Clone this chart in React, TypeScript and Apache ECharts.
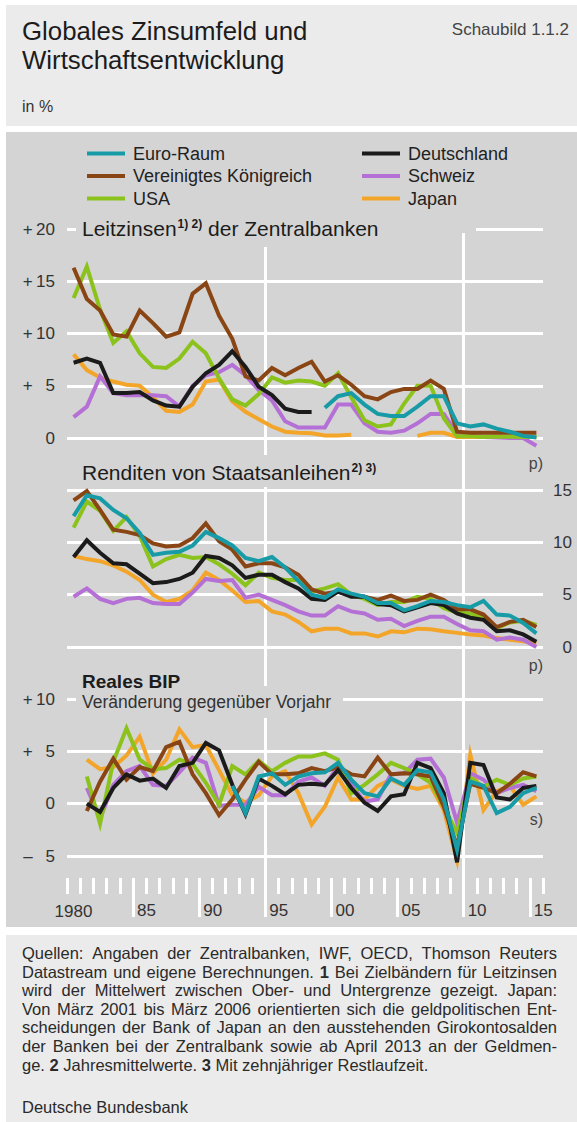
import React, { useEffect, useRef } from 'react';
import * as echarts from 'echarts';

const FONT = '"Liberation Sans", Arial, sans-serif';

const YEARS = [1980, 1981, 1982, 1983, 1984, 1985, 1986, 1987, 1988, 1989, 1990, 1991, 1992, 1993, 1994, 1995, 1996, 1997, 1998, 1999, 2000, 2001, 2002, 2003, 2004, 2005, 2006, 2007, 2008, 2009, 2010, 2011, 2012, 2013, 2014, 2015];

// Panel 1: Leitzinsen der Zentralbanken
const RATE_EURO = [null, null, null, null, null, null, null, null, null, null, null, null, null, null, null, null, null, null, null, 2.9, 4.0, 4.3, 3.2, 2.3, 2.1, 2.1, 3.0, 4.0, 4.0, 1.4, 1.1, 1.3, 0.9, 0.6, 0.2, 0.05];
const RATE_DE = [7.2, 7.6, 7.2, 4.3, 4.3, 4.4, 3.6, 3.1, 3.0, 4.9, 6.2, 7.0, 8.3, 6.8, 4.9, 4.1, 2.8, 2.5, 2.5, null, null, null, null, null, null, null, null, null, null, null, null, null, null, null, null, null];
const RATE_UK = [16.3, 13.3, 12.2, 9.9, 9.7, 12.2, 11.0, 9.7, 10.1, 13.8, 14.8, 11.7, 9.5, 5.9, 5.5, 6.7, 6.0, 6.7, 7.3, 5.4, 6.0, 5.1, 4.0, 3.7, 4.4, 4.7, 4.7, 5.5, 4.7, 0.6, 0.5, 0.5, 0.5, 0.5, 0.5, 0.5];
const RATE_CH = [2.0, 3.0, 5.9, 4.3, 4.1, 4.1, 4.1, 4.0, 3.0, 5.0, 6.0, 6.3, 7.0, 6.0, 4.6, 3.6, 1.6, 1.0, 1.0, 1.0, 3.2, 3.2, 1.4, 0.6, 0.5, 0.7, 1.4, 2.3, 2.3, 0.4, 0.25, 0.1, 0.05, 0.0, 0.0, -0.75];
const RATE_US = [13.4, 16.4, 12.3, 9.1, 10.2, 8.1, 6.8, 6.7, 7.6, 9.2, 8.1, 5.7, 3.7, 3.1, 4.2, 5.8, 5.3, 5.5, 5.4, 5.0, 6.2, 3.9, 1.7, 1.1, 1.3, 3.3, 5.0, 5.0, 1.9, 0.16, 0.18, 0.1, 0.14, 0.11, 0.09, 0.13];
const RATE_JP = [8.0, 6.5, 5.8, 5.4, 5.1, 5.0, 3.9, 2.6, 2.5, 3.2, 5.4, 5.6, 3.5, 2.5, 1.8, 1.1, 0.6, 0.5, 0.45, 0.25, 0.25, 0.3, null, null, null, null, 0.2, 0.5, 0.5, 0.1, 0.1, 0.1, 0.1, 0.1, 0.1, 0.1];

// Panel 2: Renditen von Staatsanleihen
const BOND_EURO = [12.5, 14.5, 14.2, 13.1, 12.3, 10.9, 8.8, 9.0, 9.1, 9.7, 11.0, 10.4, 9.7, 8.5, 8.2, 8.6, 7.6, 6.3, 5.0, 4.7, 5.5, 5.1, 4.8, 4.2, 4.2, 3.5, 3.9, 4.4, 4.3, 4.0, 3.8, 4.4, 3.1, 3.0, 2.3, 1.3];
const BOND_DE = [8.6, 10.2, 9.0, 8.0, 7.9, 7.0, 6.1, 6.2, 6.5, 7.1, 8.7, 8.5, 7.8, 6.6, 6.9, 6.9, 6.2, 5.6, 4.6, 4.5, 5.3, 4.8, 4.8, 4.1, 4.0, 3.4, 3.8, 4.2, 4.0, 3.2, 2.8, 2.6, 1.5, 1.6, 1.2, 0.5];
const BOND_UK = [14.0, 14.9, 13.1, 11.2, 11.0, 10.7, 9.9, 9.6, 9.7, 10.4, 11.8, 10.1, 9.3, 7.7, 8.0, 8.0, 7.6, 6.9, 5.5, 5.1, 5.3, 4.9, 4.8, 4.5, 4.9, 4.4, 4.5, 5.0, 4.5, 3.6, 3.6, 3.1, 1.9, 2.4, 2.6, 1.9];
const BOND_CH = [4.8, 5.6, 4.6, 4.2, 4.6, 4.7, 4.2, 4.1, 4.1, 5.2, 6.5, 6.3, 6.4, 4.7, 5.0, 4.5, 4.0, 3.4, 3.0, 3.0, 3.9, 3.4, 3.2, 2.6, 2.7, 2.0, 2.5, 2.9, 2.9, 2.2, 1.6, 1.5, 0.7, 0.9, 0.7, 0.0];
const BOND_US = [11.4, 13.9, 13.0, 11.1, 12.4, 10.6, 7.7, 8.4, 8.8, 8.5, 8.6, 7.9, 7.0, 5.9, 7.1, 6.6, 6.4, 6.4, 5.3, 5.6, 6.0, 5.0, 4.6, 4.0, 4.3, 4.3, 4.8, 4.6, 3.7, 3.3, 3.2, 2.8, 1.8, 2.35, 2.5, 2.1];
const BOND_JP = [8.7, 8.4, 8.2, 7.8, 7.2, 6.4, 5.0, 4.3, 4.6, 5.4, 7.1, 6.4, 5.4, 4.3, 4.4, 3.4, 3.1, 2.4, 1.5, 1.75, 1.75, 1.3, 1.3, 1.0, 1.5, 1.4, 1.75, 1.7, 1.5, 1.35, 1.2, 1.1, 0.85, 0.7, 0.55, 0.35];

// Panel 3: Reales BIP, Veränderung gegenüber Vorjahr
const GDP_EURO = [null, null, null, null, null, null, null, null, null, null, null, null, 1.7, -0.9, 2.6, 2.9, 1.8, 2.6, 2.9, 3.0, 3.9, 2.3, 1.0, 0.7, 2.4, 1.8, 3.2, 3.0, 0.4, -4.4, 2.1, 1.7, -0.9, -0.3, 1.0, 1.5];
const GDP_DE = [null, 0.0, -0.8, 1.5, 2.8, 2.2, 2.4, 1.5, 3.6, 3.9, 5.8, 5.1, 1.8, -1.0, 2.4, 1.7, 0.9, 1.8, 1.9, 1.8, 3.2, 1.5, 0.1, -0.7, 0.7, 0.9, 3.9, 3.4, 1.0, -5.6, 3.9, 3.7, 0.6, 0.4, 1.5, 1.7];
const GDP_UK = [null, -0.7, 2.1, 4.3, 2.3, 3.5, 3.1, 5.4, 5.9, 2.8, 1.0, -1.1, 0.4, 2.3, 4.0, 2.8, 2.8, 2.9, 3.4, 3.1, 3.5, 2.8, 2.6, 4.4, 2.8, 2.9, 2.8, 2.6, -0.3, -4.1, 1.9, 1.5, 1.0, 1.9, 3.0, 2.6];
const GDP_CH = [null, 1.5, -1.4, 1.8, 3.1, 3.6, 1.8, 1.7, 3.0, 4.4, 3.9, -0.2, -0.1, -0.1, 1.6, 0.8, 0.8, 2.1, 2.5, 1.7, 3.6, 1.8, 0.2, 0.4, 2.8, 2.9, 4.2, 4.3, 2.5, -1.8, 2.9, 2.3, 1.0, 1.5, 1.8, 1.2];
const GDP_US = [null, 2.6, -1.9, 4.0, 7.2, 4.2, 3.3, 3.4, 4.2, 3.8, 2.0, -0.1, 3.6, 2.8, 4.1, 3.1, 3.9, 4.5, 4.5, 4.8, 4.2, 1.0, 1.8, 2.8, 3.9, 3.4, 2.8, 2.0, -0.3, -2.8, 2.5, 1.6, 2.3, 1.8, 2.4, 2.6];
const GDP_JP = [null, 4.2, 3.3, 3.5, 4.6, 6.4, 2.9, 4.2, 7.1, 5.4, 5.6, 3.2, 0.8, 0.1, 0.8, 2.6, 3.1, 1.0, -2.0, -0.3, 2.5, 0.4, 0.4, 1.7, 2.3, 1.7, 1.4, 1.7, -0.6, -5.4, 4.7, -0.6, 1.2, 1.7, -0.1, 0.7];

const NAMES = ['Japan', 'Schweiz', 'USA', 'Vereinigtes Königreich', 'Deutschland', 'Euro-Raum'];
const COLORS = ['#f3a52a', '#b570d6', '#8cc21c', '#8a4514', '#1b1b1b', '#179ba7'];
const PANEL_DATA = [
  [RATE_JP, RATE_CH, RATE_US, RATE_UK, RATE_DE, RATE_EURO],
  [BOND_JP, BOND_CH, BOND_US, BOND_UK, BOND_DE, BOND_EURO],
  [GDP_JP, GDP_CH, GDP_US, GDP_UK, GDP_DE, GDP_EURO],
];

const LEGEND_LEFT = ['Euro-Raum', 'Vereinigtes Königreich', 'USA'];
const LEGEND_RIGHT = ['Deutschland', 'Schweiz', 'Japan'];

const NOTE_LINES = [
  'Quellen: Angaben der Zentralbanken, IWF, OECD, Thomson Reuters',
  'Datastream und eigene Berechnungen. *1* Bei Zielbändern für Leitzinsen',
  'wird der Mittelwert zwischen Ober- und Untergrenze gezeigt. Japan:',
  'Von März 2001 bis März 2006 orientierten sich die geldpolitischen Ent-',
  'scheidungen der Bank of Japan an den ausstehenden Girokontosalden',
  'der Banken bei der Zentralbank sowie ab April 2013 an der Geldmen-',
  'ge. *2* Jahresmittelwerte. *3* Mit zehnjähriger Restlaufzeit.',
];

const BG_CHART = '#d4d4d4';
const BG_LIGHT = '#ebebeb';
const TXT = '#222';

function leftLabel(v: number): string {
  if (v === 0) return '0';
  const a = Math.abs(v);
  const sign = v > 0 ? '+' : '\u2013';
  return sign + (a < 10 ? '\u2009\u2007' : '\u2009') + a;
}

function footnoteElements(): any[] {
  const els: any[] = [];
  const canvas = document.createElement('canvas');
  const ctx = canvas.getContext('2d') as CanvasRenderingContext2D;
  const size = 16.5;
  const x0 = 22;
  const x1 = 557;
  const measure = (t: string, bold: boolean) => {
    ctx.font = `${bold ? 'bold ' : ''}${size}px ${FONT}`;
    return ctx.measureText(t).width;
  };
  const spaceW = measure(' ', false);
  NOTE_LINES.forEach((line, li) => {
    const words = line.split(' ').map((w) => {
      const bold = w.startsWith('*') && w.endsWith('*');
      const t = bold ? w.slice(1, -1) : w;
      return { t, bold, w: measure(t, bold) };
    });
    const sum = words.reduce((s, w) => s + w.w, 0);
    const last = li === NOTE_LINES.length - 1;
    const gap = last ? spaceW : Math.max(2, (x1 - x0 - sum) / (words.length - 1));
    let x = x0;
    const y = 953 + li * 18.6;
    words.forEach((w) => {
      els.push({
        type: 'text', z: 10, silent: true,
        style: { text: w.t, x, y, fill: '#2a2a2a', fontSize: size, fontFamily: FONT, fontWeight: w.bold ? 'bold' : 'normal', align: 'left', verticalAlign: 'middle' },
      });
      x += w.w + gap;
    });
  });
  els.push({
    type: 'text', z: 10, silent: true,
    style: { text: 'Deutsche Bundesbank', x: x0, y: 1107, fill: '#2a2a2a', fontSize: size, fontFamily: FONT, align: 'left', verticalAlign: 'middle' },
  });
  return els;
}

export default function App() {
  const ref = useRef<HTMLDivElement>(null);
  useEffect(() => {
    if (!ref.current) return;
    const chart = echarts.init(ref.current, undefined, { renderer: 'svg' });

    const gridLine = { show: true, lineStyle: { color: '#ffffff', width: 3 } };
    const axisText = { fontSize: 17, color: '#333', fontFamily: FONT };

    const series: any[] = [];
    PANEL_DATA.forEach((panel, p) => {
      panel.forEach((vals, k) => {
        series.push({
          type: 'line',
          name: NAMES[k],
          xAxisIndex: p,
          yAxisIndex: p,
          data: YEARS.map((yr, i) => [yr + 0.5, vals[i] == null ? '-' : vals[i]]),
          symbol: 'none',
          showSymbol: false,
          connectNulls: false,
          clip: false,
          silent: true,
          z: 3,
          lineStyle: { color: COLORS[k], width: 4, join: 'miter', miterLimit: 6 },
          itemStyle: { color: COLORS[k] },
          emphasis: { disabled: true },
        });
      });
    });
    // helper series so that the frame and tick grids are laid out
    [3, 4, 5].forEach((g) => {
      series.push({ type: 'line', xAxisIndex: g, yAxisIndex: g, data: [], silent: true });
    });

    const legendBase = {
      orient: 'vertical',
      top: 139.5,
      itemWidth: 38,
      itemHeight: 4,
      itemGap: 4.5,
      icon: 'rect',
      selectedMode: false,
      textStyle: { fontSize: 18, color: TXT, fontFamily: FONT, padding: [0, 0, 0, 3] },
    };

    const mask = (x: number, y: number, w: number, h: number) => ({
      type: 'rect', z: 5, silent: true,
      shape: { x, y, width: w, height: h },
      style: { fill: BG_CHART },
    });
    const text = (t: string, x: number, y: number, size: number, extra: any = {}) => ({
      type: 'text', z: 10, silent: true,
      style: { text: t, x, y, fontSize: size, fontFamily: FONT, fill: TXT, align: 'left', verticalAlign: 'middle', ...extra },
    });

    const graphic: any[] = [
      text('Globales Zinsumfeld und', 22, 30.5, 25.8, { fill: '#1c1c1c' }),
      text('Wirtschaftsentwicklung', 22, 59.5, 25.8, { fill: '#1c1c1c' }),
      text('in %', 22, 106, 16, { fill: '#333' }),
      text('Schaubild 1.1.2', 569, 29, 17, { fill: '#444', align: 'right' }),
      mask(76, 213, 379, 34),
      mask(455, 224, 21, 9),
      mask(76, 455, 322, 32),
      mask(76, 686, 267, 32),
      {
        type: 'text', z: 10, silent: true,
        style: {
          text: '{a|Leitzinsen}{s|1) 2)}{a| der Zentralbanken}', x: 82, y: 228,
          verticalAlign: 'middle', align: 'left',
          rich: {
            a: { fontSize: 21, fontFamily: FONT, fill: '#1c1c1c' },
            s: { fontSize: 12, fontFamily: FONT, fontWeight: 'bold', fill: '#1c1c1c', verticalAlign: 'top', padding: [0, 0, 0, 1] },
          },
        },
      },
      {
        type: 'text', z: 10, silent: true,
        style: {
          text: '{a|Renditen von Staatsanleihen}{s|2) 3)}', x: 82, y: 472.5,
          verticalAlign: 'middle', align: 'left',
          rich: {
            a: { fontSize: 21, fontFamily: FONT, fill: '#1c1c1c' },
            s: { fontSize: 12, fontFamily: FONT, fontWeight: 'bold', fill: '#1c1c1c', verticalAlign: 'top', padding: [0, 0, 0, 1] },
          },
        },
      },
      text('Reales BIP', 82, 681, 19, { fontWeight: 'bold', fill: '#1c1c1c' }),
      text('Veränderung gegenüber Vorjahr', 82, 702, 17.5, { fill: '#333' }),
      text('p)', 543, 463, 16, { fill: '#444', align: 'right' }),
      text('p)', 543, 665, 16, { fill: '#444', align: 'right' }),
      text('s)', 543, 819, 16, { fill: '#444', align: 'right' }),
      text('1980', 73.5, 911, 17, { fill: '#333', align: 'center' }),
      ...footnoteElements(),
    ];

    const option: any = {
      animation: false,
      backgroundColor: 'transparent',
      textStyle: { fontFamily: FONT },
      legend: [
        { ...legendBase, left: 82, data: LEGEND_LEFT },
        { ...legendBase, left: 357, data: LEGEND_RIGHT },
      ],
      grid: [
        { left: 67, right: 34, top: 229, height: 209 },
        { left: 67, right: 34, top: 490, height: 157 },
        { left: 67, right: 34, top: 699, height: 157 },
        { left: 67, right: 34, top: 229, height: 688 },
        { left: 67, right: 34, top: 877, height: 1 },
        { left: 133.11, right: 47.22, top: 877, height: 1 },
      ],
      xAxis: [
        { type: 'value', gridIndex: 0, min: 1980, max: 2016, show: false },
        { type: 'value', gridIndex: 1, min: 1980, max: 2016, show: false },
        { type: 'value', gridIndex: 2, min: 1980, max: 2016, show: false },
        {
          type: 'value', gridIndex: 3, min: 1980, max: 2016, interval: 15,
          axisLine: { show: false }, axisTick: { show: false }, axisLabel: { show: false },
          splitLine: { show: true, showMinLine: false, showMaxLine: false, lineStyle: { color: '#ffffff', width: 3 } },
        },
        {
          type: 'value', gridIndex: 4, min: 1980, max: 2016, interval: 1, position: 'bottom',
          axisLine: { show: false },
          axisTick: { show: true, length: 16, lineStyle: { color: '#ffffff', width: 3 } },
          axisLabel: { show: false }, splitLine: { show: false },
        },
        {
          type: 'value', gridIndex: 5, min: 1985, max: 2015, interval: 5, position: 'bottom',
          axisLine: { show: false },
          axisTick: { show: true, length: 39, lineStyle: { color: '#ffffff', width: 3 } },
          axisLabel: {
            ...axisText, align: 'left', margin: 24, padding: [0, 0, 0, 4],
            formatter: (v: number) => String(v % 100).padStart(2, '0'),
          },
          splitLine: { show: false },
        },
      ],
      yAxis: [
        {
          type: 'value', gridIndex: 0, min: 0, max: 20, interval: 5,
          axisLine: { show: false }, axisTick: { show: false },
          axisLabel: { ...axisText, margin: 12, formatter: leftLabel },
          splitLine: gridLine,
        },
        {
          type: 'value', gridIndex: 1, min: 0, max: 15, interval: 5, position: 'right',
          axisLine: { show: false }, axisTick: { show: false },
          axisLabel: { ...axisText, margin: 29, align: 'right', formatter: (v: number) => String(v) },
          splitLine: gridLine,
        },
        {
          type: 'value', gridIndex: 2, min: -5, max: 10, interval: 5,
          axisLine: { show: false }, axisTick: { show: false },
          axisLabel: { ...axisText, margin: 12, formatter: leftLabel },
          splitLine: gridLine,
        },
        { type: 'value', gridIndex: 3, min: 0, max: 1, show: false },
        { type: 'value', gridIndex: 4, min: 0, max: 1, show: false },
        { type: 'value', gridIndex: 5, min: 0, max: 1, show: false },
      ],
      graphic,
      series,
    };
    chart.setOption(option);
    return () => chart.dispose();
  }, []);

  return (
    <div style={{ position: 'absolute', left: 0, top: 0, width: 577, height: 1122, background: '#ffffff', overflow: 'hidden' }}>
      <div style={{ position: 'absolute', left: 6, top: 5, width: 571, height: 121, background: BG_LIGHT }} />
      <div style={{ position: 'absolute', left: 6, top: 132, width: 571, height: 795, background: BG_CHART }} />
      <div style={{ position: 'absolute', left: 6, top: 935, width: 571, height: 187, background: BG_LIGHT }} />
      <div ref={ref} style={{ position: 'absolute', left: 0, top: 0, width: 577, height: 1122 }} />
    </div>
  );
}
